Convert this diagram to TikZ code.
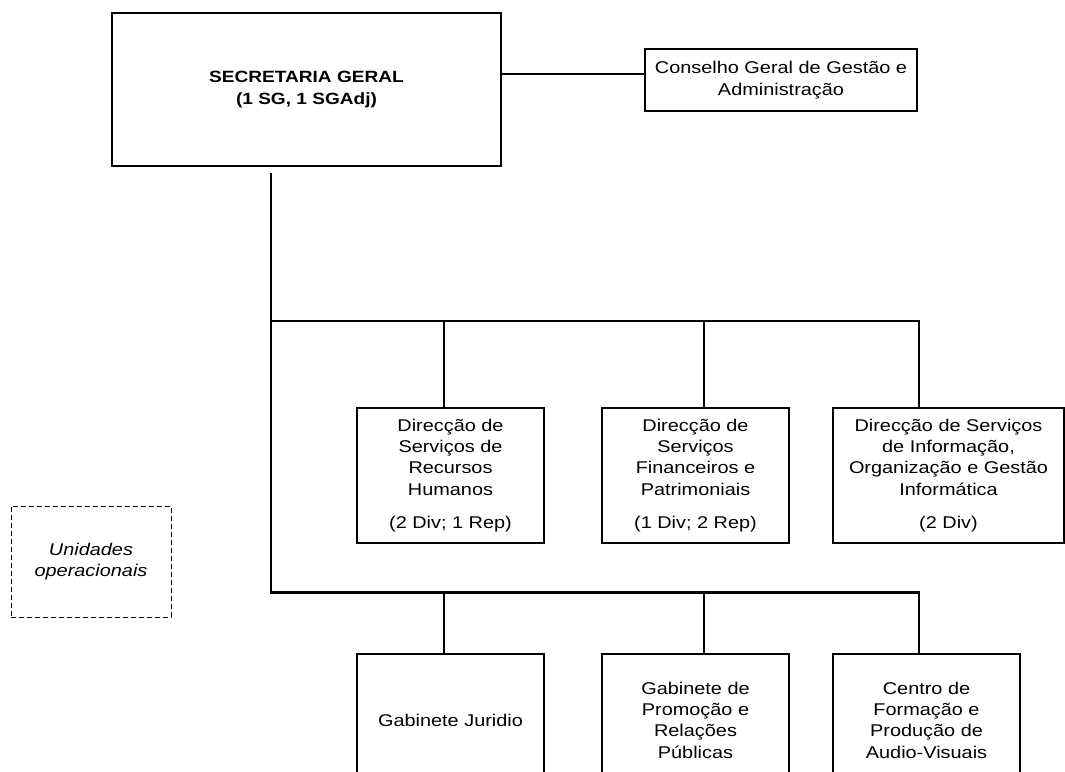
\documentclass[tikz,border=0pt]{standalone}
\usepackage{fontspec}
\setmainfont{Liberation Sans}[FakeStretch=1.17]
\begin{document}
\begin{tikzpicture}[x=1pt,y=-1pt,
  box/.style={draw, line width=1.3pt, align=center, inner sep=0pt,
    font=\fontsize{17}{21.3}\selectfont},
  dbox/.style={box, line width=0.9pt, dash pattern=on 5pt off 3pt},
  conn/.style={line width=2.4pt}]
\clip (0,0) rectangle (1065,771);

% top level
\node[box, minimum width=389pt, minimum height=153pt] (sg) at (306.5,89.5)
  {\fontsize{16.3}{19}\selectfont\bfseries SECRETARIA GERAL\\ \fontsize{16.3}{19}\selectfont\bfseries(1 SG, 1 SGAdj)};
\node[box, minimum width=272pt, minimum height=62pt] (cg) at (781,80)
  {Conselho Geral de Gestão e\\Administração};

% first row of directorates
\node[box, minimum width=187pt, minimum height=135pt] (r1a) at (450.5,475.5)
  {Direcção de\\Serviços de\\Recursos\\Humanos\\[12pt](2 Div; 1 Rep)};
\node[box, minimum width=187pt, minimum height=135pt] (r1b) at (695.5,475.5)
  {Direcção de\\Serviços\\Financeiros e\\Patrimoniais\\[12pt](1 Div; 2 Rep)};
\node[box, minimum width=231pt, minimum height=135pt] (r1c) at (948.5,475.5)
  {Direcção de Serviços\\de Informação,\\Organização e Gestão\\Informática\\[12pt](2 Div)};

% second row of offices
\node[box, minimum width=187pt, minimum height=132pt] (r2a) at (450.5,720)
  {Gabinete Juridio};
\node[box, minimum width=187pt, minimum height=132pt] (r2b) at (695.5,720)
  {Gabinete de\\Promoção e\\Relações\\Públicas};
\node[box, minimum width=187pt, minimum height=132pt] (r2c) at (926.5,720)
  {Centro de\\Formação e\\Produção de\\Audio-Visuais};

% legend
\node[dbox, minimum width=160pt, minimum height=111pt] (uo) at (91,561.5)
  {\itshape Unidades\\\itshape operacionais};

% connector reference points
\coordinate (hl) at (0,74);
\coordinate (t0) at (270.7,173);
\coordinate (j1) at (270.7,321);
\coordinate (j2) at (270.7,592.5);
\coordinate (d1) at (444,0);
\coordinate (d2) at (704,0);
\coordinate (d3) at (919,0);

% connectors
\draw[conn] (sg.east |- hl) -- (cg.west |- hl);
\draw[conn] (t0) -- (j2) -- (j2 -| d3) -- (r2c.north -| d3);
\draw[conn] (j1) -- (j1 -| d3) -- (r1c.north -| d3);
\draw[conn] (j1 -| d1) -- (r1a.north -| d1);
\draw[conn] (j1 -| d2) -- (r1b.north -| d2);
\draw[conn] (j2 -| d1) -- (r2a.north -| d1);
\draw[conn] (j2 -| d2) -- (r2b.north -| d2);
\end{tikzpicture}
\end{document}
